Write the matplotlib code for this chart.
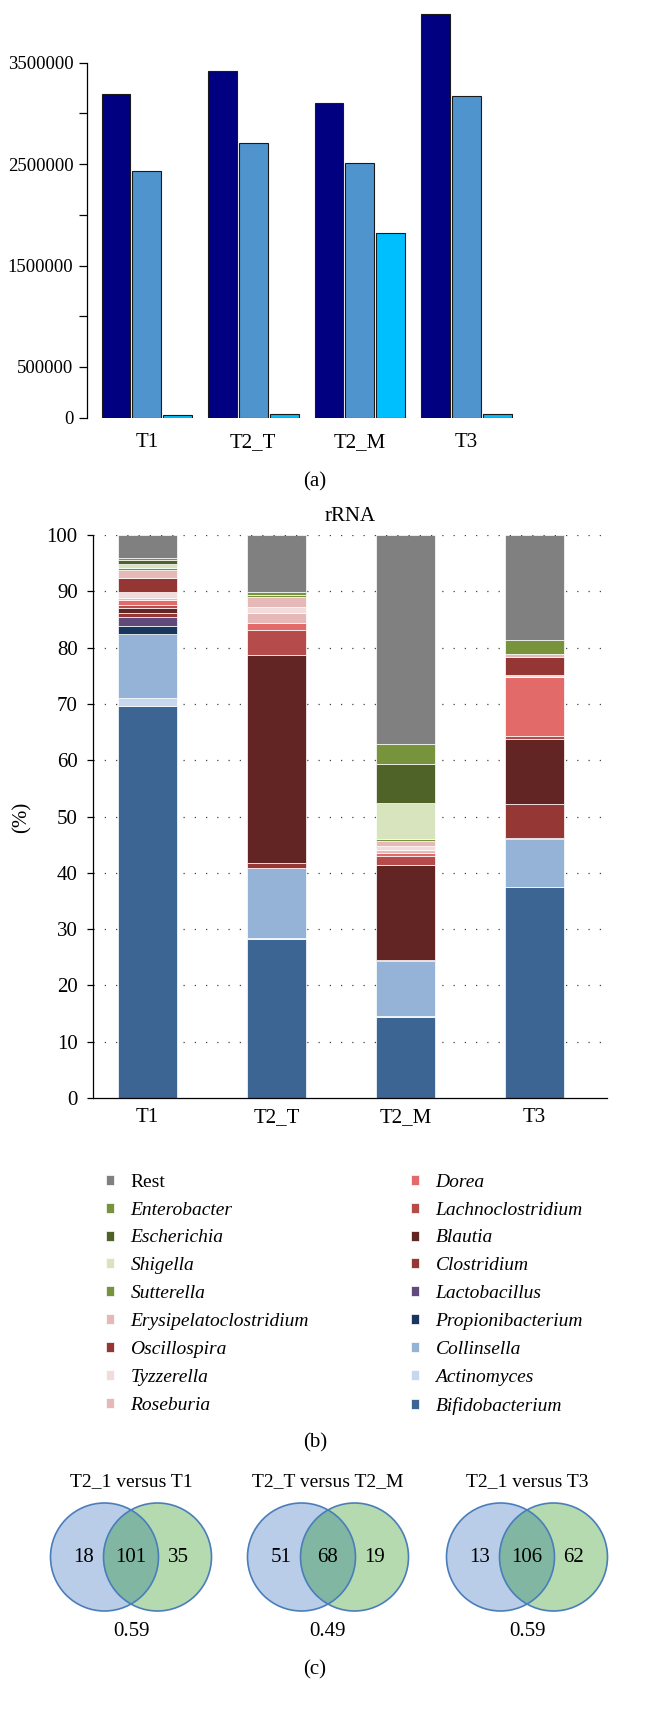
import numpy as np
import matplotlib.pyplot as plt
from matplotlib.patches import Circle

plt.rcParams['font.family'] = ['Liberation Serif', 'DejaVu Serif']

W, H = 664, 1714

samples = ['T1', 'T2_T', 'T2_M', 'T3']

# (a) read counts per sample, three series
reads_1 = [3195000, 3422000, 3100000, 3984000]
reads_2 = [2433000, 2712000, 2509000, 3175000]
reads_3 = [25000, 40000, 1824000, 37000]
a_colors = ['#000080', '#4f94cd', '#00bfff']
a_ticks = [0, 500000, 1000000, 1500000, 2000000, 2500000, 3000000, 3500000]
a_ticklabels = ['0', '500000', '', '1500000', '', '2500000', '', '3500000']

# (b) rRNA genus composition (%), bottom to top
genera = ['Bifidobacterium', 'Actinomyces', 'Collinsella', 'Propionibacterium',
          'Lactobacillus', 'Clostridium', 'Blautia', 'Lachnoclostridium', 'Dorea',
          'Roseburia', 'Tyzzerella', 'Oscillospira', 'Erysipelatoclostridium',
          'Sutterella', 'Shigella', 'Escherichia', 'Enterobacter', 'Rest']
pct_T1 = [69.6, 1.4, 11.4, 1.4, 1.7, 0.6, 0.9, 0.6, 0.9, 0.3, 1.0, 2.5, 1.5, 0.4, 0.6, 0.7, 0.5, 4.0]
pct_T2_T = [28.2, 0.2, 12.4, 0.0, 0.0, 1.0, 36.9, 4.4, 1.2, 1.9, 1.0, 0.1, 1.6, 0.4, 0.0, 0.1, 0.5, 10.1]
pct_T2_M = [14.4, 0.2, 9.7, 0.0, 0.0, 0.3, 16.8, 1.5, 0.6, 0.5, 0.5, 0.3, 0.8, 0.4, 6.4, 7.0, 3.5, 37.1]
pct_T3 = [37.4, 0.1, 8.5, 0.0, 0.2, 6.1, 11.4, 0.6, 10.5, 0.0, 0.3, 3.2, 0.5, 0.0, 0.0, 0.0, 2.5, 18.7]
genus_colors = ['#3d6594', '#c5d8f0', '#95b3d7', '#17375e', '#604a7b', '#953735',
                '#632523', '#b54b4a', '#e26b6a', '#e6b9b8', '#f2dcdb', '#943634',
                '#e6b9b8', '#77933c', '#d7e4bd', '#4f6228', '#77933c', '#808080']

# (c) venn counts
venn_titles = ['T2_1 versus T1', 'T2_T versus T2_M', 'T2_1 versus T3']
venn_left = [18, 51, 13]
venn_both = [101, 68, 106]
venn_right = [35, 19, 62]
venn_index = ['0.59', '0.49', '0.59']

fig = plt.figure(figsize=(W / 100, H / 100), dpi=100)

# ---------------- panel (a)
ax = fig.add_axes([87.3 / W, 1 - 417.7 / H, 431 / W, 410.7 / H])
centers = np.arange(len(samples)) * 3.727
for k, series in enumerate([reads_1, reads_2, reads_3]):
    ax.bar(centers + (k - 1) * 1.083, series, width=1.0, color=a_colors[k],
           edgecolor='#1a1a1a', linewidth=0.8)
ax.set_xlim(-2.08, 13.0)
ax.set_ylim(0, 4.05e6)
for s in ['top', 'right', 'bottom']:
    ax.spines[s].set_visible(False)
ax.spines['left'].set_bounds(0, 3.5e6)
ax.spines['left'].set_linewidth(0.9)
ax.set_yticks(a_ticks)
ax.set_yticklabels(a_ticklabels)
ax.tick_params(axis='y', length=6, width=0.9, pad=4, labelsize=13.5)
ax.set_xticks(centers)
ax.set_xticklabels(samples)
ax.tick_params(axis='x', length=0, pad=11, labelsize=15)
fig.text(315 / W, 1 - 482 / H, '(a)', ha='center', va='center', fontsize=15)

# ---------------- panel (b)
ax = fig.add_axes([93 / W, 1 - 1098 / H, 514 / W, (1098 - 535) / H])
x = np.arange(len(samples))
table = np.array([pct_T1, pct_T2_T, pct_T2_M, pct_T3])
bottom = np.zeros(len(samples))
handles = []
for j, g in enumerate(genera):
    h = ax.bar(x, table[:, j], bottom=bottom, width=0.457, color=genus_colors[j],
               edgecolor='white', linewidth=0.5, label=g, zorder=2)
    handles.append(h)
    bottom += table[:, j]
for yv in range(10, 101, 10):
    ax.axhline(yv, color='#444444', lw=0.9, ls=(0, (1, 8)),
               zorder=3 if yv == 100 else 0)
ax.set_xlim(-0.422, 3.562)
ax.set_ylim(0, 100)
for s in ['top', 'right']:
    ax.spines[s].set_visible(False)
ax.spines['left'].set_linewidth(0.9)
ax.spines['bottom'].set_linewidth(0.9)
ax.set_yticks(range(0, 101, 10))
ax.tick_params(axis='y', length=4, width=0.9, pad=7, labelsize=15)
ax.set_xticks(x)
ax.set_xticklabels(samples)
ax.tick_params(axis='x', length=0, pad=7, labelsize=15)
ax.text(0.5, 1.032, 'rRNA', transform=ax.transAxes, ha='center', va='center', fontsize=15)
fig.text(22 / W, 1 - 817 / H, '(%)', rotation=90, ha='center', va='center', fontsize=15)

# legend: two columns, top of stack first
rev = handles[::-1]
leg_kw = dict(frameon=False, borderpad=0, fontsize=14, handlelength=0.42,
              handleheight=0.42, handletextpad=0.85, labelspacing=0.56,
              loc='upper left', bbox_transform=fig.transFigure)
leg1 = ax.legend(rev[:9], [h.get_label() for h in rev[:9]],
                 bbox_to_anchor=(96 / W, 1 - 1164 / H), **leg_kw)
ax.add_artist(leg1)
leg2 = ax.legend(rev[9:], [h.get_label() for h in rev[9:]],
                 bbox_to_anchor=(401 / W, 1 - 1164 / H), **leg_kw)
for leg in (leg1, leg2):
    for t in leg.get_texts():
        if t.get_text() != 'Rest':
            t.set_fontstyle('italic')
fig.text(315 / W, 1 - 1443 / H, '(b)', ha='center', va='center', fontsize=15)

# ---------------- panel (c)
venn_cx = [131, 328, 527]
for i, cx in enumerate(venn_cx):
    av = fig.add_axes([(cx - 90) / W, 1 - (1557 + 90) / H, 180 / W, 180 / H])
    av.set_xlim(-90, 90)
    av.set_ylim(-90, 90)
    av.axis('off')
    left = Circle((-26.5, 0), 54, fc='#b9cde8', ec='none')
    right = Circle((26.5, 0), 54, fc='#b5dab0', ec='none')
    av.add_patch(left)
    av.add_patch(right)
    both = Circle((26.5, 0), 54, fc='#80b6a2', ec='none')
    av.add_patch(both)
    both.set_clip_path(left)
    av.add_patch(Circle((-26.5, 0), 54, fill=False, ec='#4a7ebb', lw=1.2))
    av.add_patch(Circle((26.5, 0), 54, fill=False, ec='#4a7ebb', lw=1.2))
    av.text(-47, 0, str(venn_left[i]), ha='center', va='center', fontsize=15)
    av.text(0, 0, str(venn_both[i]), ha='center', va='center', fontsize=15)
    av.text(47, 0, str(venn_right[i]), ha='center', va='center', fontsize=15)
    av.text(0, 75, venn_titles[i], ha='center', va='center', fontsize=14)
    av.text(0, -74, venn_index[i], ha='center', va='center', fontsize=15)
fig.text(315 / W, 1 - 1670 / H, '(c)', ha='center', va='center', fontsize=15)

fig.savefig('out.png', dpi=100, facecolor='white')
